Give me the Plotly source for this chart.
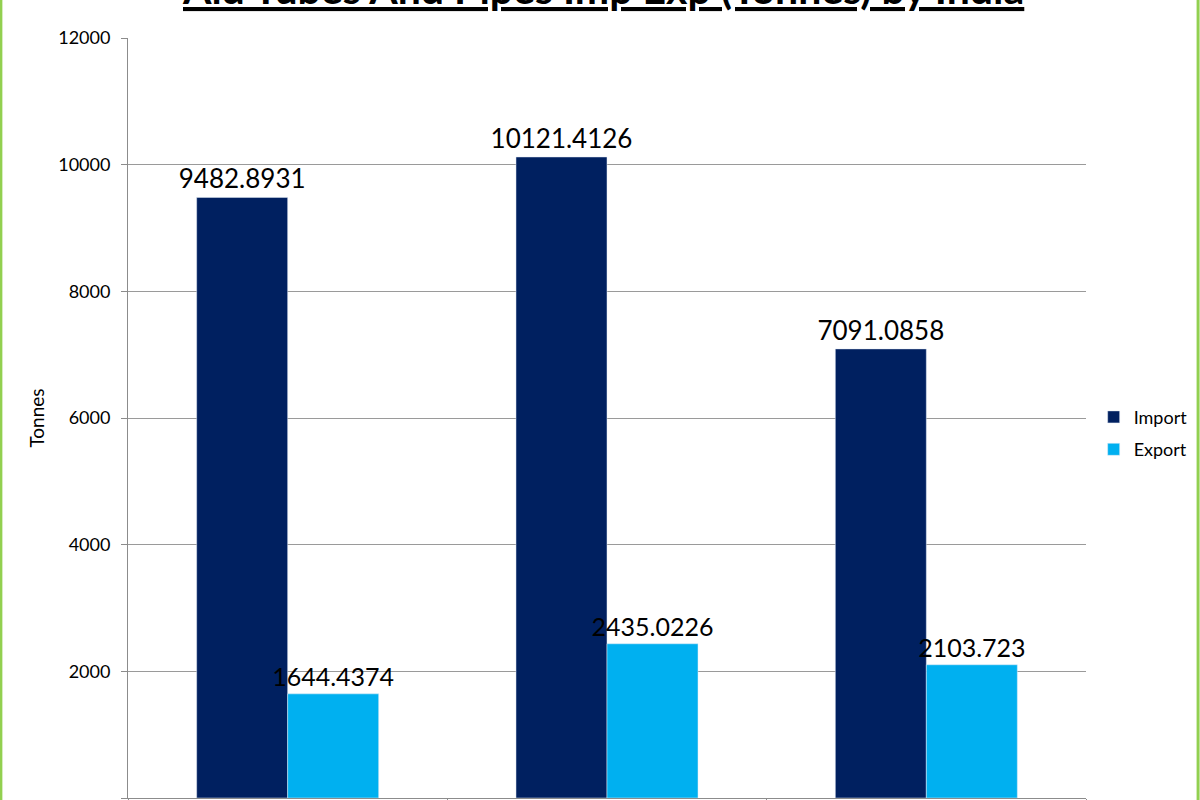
import plotly.graph_objects as go

# data (x labels are cropped out of the picture)
years = ["2009-2010", "2010-2011", "2011-2012"]
imports = [9482.8931, 10121.4126, 7091.0858]
exports = [1644.4374, 2435.0226, 2103.723]

font = "Lato"

fig = go.Figure()
fig.add_trace(go.Bar(
    x=years, y=imports, name="Import", legendgroup="imp",
    marker_color="#002060",
    text=[str(v) for v in imports], textposition="outside",
    textfont=dict(size=26, color="black", family=font),
    constraintext="none", cliponaxis=False,
))
fig.add_trace(go.Bar(
    x=years, y=exports, name="Export", legendgroup="exp",
    marker_color="#00B0F0",
    text=[str(v) for v in exports], textposition="outside",
    textfont=dict(size=25, color="black", family=font),
    constraintext="none", cliponaxis=False,
))

fig.update_layout(
    width=1200, height=800,
    margin=dict(l=128, r=114, t=38, b=2),
    paper_bgcolor="white", plot_bgcolor="white",
    font=dict(family=font, color="black"),
    barmode="group", bargap=0.43, bargroupgap=0,
    showlegend=True,
    legend=dict(x=1.008, y=0.48, xanchor="left", yanchor="middle",
                font=dict(size=18), tracegroupgap=6, itemwidth=30,
                bgcolor="rgba(0,0,0,0)"),
    xaxis=dict(showticklabels=False, showline=True, linecolor="#8c8c8c",
               ticks="outside", tickson="boundaries", ticklen=6,
               tickcolor="#8c8c8c", automargin=False),
    yaxis=dict(range=[0, 12000], dtick=2000, tickformat="d", showgrid=True,
               gridcolor="#9a9a9a", gridwidth=1, showline=True,
               linecolor="#8c8c8c", ticks="outside", ticklen=6,
               tickcolor="#8c8c8c", tickfont=dict(size=18),
               ticklabelstandoff=7, automargin=False,
               title=dict(text="Tonnes", font=dict(size=19), standoff=8),
               zeroline=False),
    annotations=[dict(
        text='<span style="text-decoration:underline"><b>Ald Tubes And Pipes Imp Exp (Tonnes) by India</b></span>',
        xref="paper", yref="paper", x=0.496, y=1.030, xanchor="center",
        yanchor="bottom", showarrow=False,
        font=dict(size=41, family=font, color="black"),
    )],
    shapes=[
        dict(type="line", xref="paper", yref="paper", x0=-0.1327, x1=-0.1327,
             y0=-0.01, y1=1.06, line=dict(color="#92D050", width=3)),
        dict(type="line", xref="paper", yref="paper", x0=1.117, x1=1.117,
             y0=-0.01, y1=1.06, line=dict(color="#92D050", width=3)),
    ],
)

fig.write_html("out.html", config={"displayModeBar": False},
               post_script="document.body.style.margin='0';")
